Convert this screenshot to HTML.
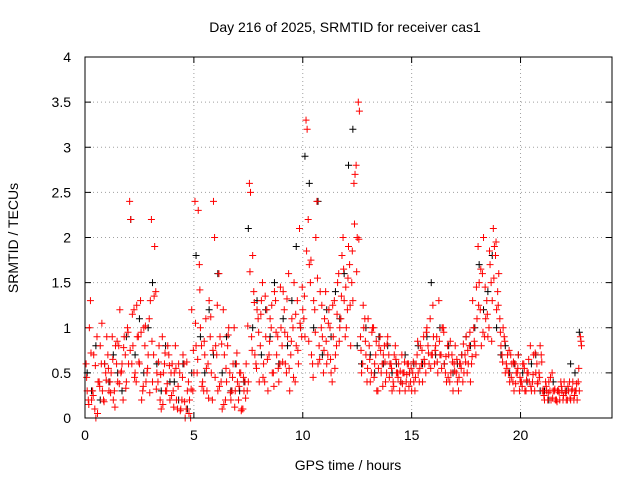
<!DOCTYPE html>
<html><head><meta charset="utf-8"><style>
body{margin:0;background:#fff;}
svg{display:block;font-family:"Liberation Sans",sans-serif;}
</style></head><body>
<svg id="chart" width="640" height="480" xmlns="http://www.w3.org/2000/svg">
<text x="345" y="32" font-size="14" text-anchor="middle">Day 216 of 2025, SRMTID for receiver cas1</text>
<text x="348" y="470" font-size="14" text-anchor="middle">GPS time / hours</text>
<text transform="translate(18,238) rotate(-90)" font-size="14" text-anchor="middle">SRMTID / TECUs</text>
<g id="grid"></g><g id="ticks"></g><g id="marks"></g>
<rect x="85" y="57" width="527" height="361" fill="none" stroke="#000"/>
</svg>
<script>
const xTicks=[0,5,10,15,20];
const yTicks=[0,0.5,1,1.5,2,2.5,3,3.5,4];
const yTickLabels=["0","0.5","1","1.5","2","2.5","3","3.5","4"];
const red1=[0.6,0.2,1.3,0.3,0.1,0.9,0.4,0.6,0.2,0.5,
0.7,0.4,0.9,0.3,0.6,0.8,0.5,0.2,0.7,1.0,
2.4,0.6,1.2,0.4,0.9,1.3,0.3,0.8,0.5,1.1,
2.2,0.7,1.4,0.4,0.2,0.9,0.6,0.3,0.7,0.5,
0.3,0.8,0.1,0.5,0.2,0.6,0.1,0.4,0.0,0.3,
2.4,0.5,1.7,0.8,0.3,1.1,0.6,0.9,0.2,2.0,
0.7,1.6,0.4,1.2,0.2,0.8,0.5,0.3,1.0,0.6,
0.2,0.5,0.1,0.4,0.3,2.6,0.9,1.4,0.6,1.1,
0.8,1.5,0.4,1.2,0.7,1.0,0.5,1.3,0.9,0.6,
0.8,1.2,0.5,1.6,0.7,1.0,0.4,1.3,2.1,0.9,
1.1,3.3,2.2,1.5,0.6,1.2,2.4,0.8,1.0,0.5,
1.4,0.7,1.0,0.4,1.3,0.8,1.6,1.1,2.0,0.9,
1.2,1.7,1.5,2.6,2.8,3.5,0.9,0.6,1.1,0.4,
0.8,0.5,1.0,0.7,0.3,0.9,0.6,0.8,0.5,0.7,
0.6,0.4,0.8,0.5,0.3,0.7,0.5,0.4,0.6,0.4,
0.5,0.3,0.7,0.4,0.6,0.9,0.5,0.8,1.1,0.7,
0.6,0.9,1.3,0.7,1.0,0.5,0.8,0.4,0.7,0.6,
0.5,0.3,0.6,0.4,0.7,0.5,0.8,0.6,1.0,0.7,
1.9,1.2,1.6,0.9,1.3,1.0,1.5,2.1,1.8,1.4,
1.1,0.7,0.9,0.6,0.5,0.7,0.4,0.6,0.5,0.3,
0.4,0.6,0.3,0.5,0.8,0.4,0.3,0.6,0.5,0.7,
0.3,0.4,0.2,0.3,0.5,0.3,0.2,0.3,0.4,0.2,
0.3,0.2,0.4,0.3,0.2,0.3,0.4,0.9];
const red2=[0.3,1.0,0.2,0.7,0.0,0.4,0.8,0.3,0.6,0.9,
0.3,0.5,0.2,0.8,0.4,1.2,0.6,0.9,0.4,0.6,
2.2,0.8,0.5,0.9,0.6,0.2,1.0,0.4,0.7,1.3,
0.4,1.9,0.5,0.8,0.1,0.5,0.3,0.8,0.2,0.6,
0.5,0.2,0.6,0.1,0.7,0.0,0.3,0.2,1.2,0.5,
0.8,2.3,1.0,0.4,0.7,0.3,1.3,0.5,2.4,0.8,
0.3,0.9,0.1,0.7,0.4,1.0,0.2,0.6,0.3,0.4,
0.5,0.1,0.3,0.6,0.4,2.5,1.8,0.7,1.2,0.4,
1.3,0.6,0.9,0.3,1.1,0.5,1.4,0.7,0.4,1.0,
1.4,0.6,0.9,0.3,1.1,1.5,0.8,0.6,1.0,1.2,
0.9,3.2,1.7,0.7,1.3,2.0,0.6,1.4,0.9,1.1,
0.6,1.2,0.5,0.9,0.7,1.5,1.0,1.8,1.3,1.0,
1.9,0.8,1.3,2.7,2.0,3.4,0.5,1.0,0.7,1.1,
0.4,1.0,0.6,0.3,0.8,0.5,0.7,0.4,0.9,0.6,
0.3,0.7,0.5,0.6,0.4,0.5,0.3,0.6,0.5,0.3,
0.4,0.6,0.5,0.8,0.4,0.6,1.0,0.6,0.7,0.9,
0.8,0.5,0.7,1.0,0.6,0.4,0.7,0.5,0.3,0.8,
0.4,0.6,0.7,0.5,0.9,0.6,0.4,1.3,0.8,1.1,
1.5,0.8,2.0,1.1,0.9,1.7,1.3,1.9,1.2,1.6,
0.8,1.0,0.5,0.7,0.4,0.6,0.3,0.5,0.7,0.4,
0.6,0.3,0.5,0.4,0.3,0.7,0.5,0.4,0.8,0.3,
0.2,0.3,0.4,0.2,0.3,0.2,0.3,0.2,0.3,0.4,
0.2,0.3,0.2,0.4,0.3,0.2,0.3,0.8];
const red3=[0.45,0.15,0.72,0.25,0.58,0.05,0.35,1.05,0.18,0.42,
0.55,0.28,0.65,0.12,0.85,0.38,0.52,0.78,0.33,0.95,
0.75,1.15,0.45,1.25,0.62,0.95,0.35,1.02,0.55,0.28,
0.85,1.35,0.32,0.62,0.48,0.15,0.72,0.38,0.58,0.25,
0.12,0.55,0.35,0.08,0.45,0.18,0.62,0.05,0.32,0.75,
1.05,0.65,1.42,0.35,0.85,0.55,0.22,1.12,0.75,0.45,
1.25,0.35,0.82,0.15,0.55,0.92,0.28,0.45,0.12,0.72,
0.35,0.08,0.45,0.22,1.02,1.62,0.75,1.28,0.55,0.95,
1.15,0.45,1.35,0.65,0.85,1.25,0.35,0.95,0.55,1.45,
0.62,0.95,1.32,0.55,0.85,0.45,1.15,0.75,1.05,1.45,
1.35,1.85,0.85,1.75,0.45,0.95,1.55,0.65,1.25,0.75,
0.85,1.05,0.65,1.25,0.55,1.15,0.85,1.35,1.65,1.45,
1.55,1.25,1.85,2.15,1.62,1.98,0.75,1.25,0.85,0.55,
0.65,0.95,0.45,0.85,0.55,0.75,0.35,0.62,0.82,0.45,
0.55,0.35,0.65,0.45,0.52,0.38,0.62,0.48,0.35,0.55,
0.62,0.45,0.85,0.55,0.75,0.65,0.95,0.72,0.55,1.25,
0.75,0.62,0.85,0.55,0.95,0.68,0.45,0.85,0.62,0.52,
0.65,0.45,0.55,0.82,0.62,0.75,0.95,0.68,0.85,1.45,
1.25,1.65,0.95,1.45,1.15,1.85,0.85,1.55,1.95,1.25,
0.95,0.62,0.85,0.55,0.75,0.45,0.62,0.38,0.55,0.45,
0.35,0.55,0.42,0.65,0.35,0.48,0.72,0.38,0.45,0.62,
0.25,0.35,0.28,0.45,0.22,0.32,0.18,0.28,0.35,0.25,
0.28,0.35,0.22,0.32,0.25,0.38,0.55,0.85];
const black=[0.5,0.3,0.8,0.2,0.6,0.4,0.7,0.5,0.3,0.9,
2.2,0.7,1.1,0.5,1.0,1.5,0.6,0.3,0.8,0.4,
0.4,0.2,0.6,0.1,0.5,1.8,0.9,0.5,1.2,0.7,
1.6,0.5,0.9,0.3,0.6,0.3,0.4,2.1,1.0,1.3,
0.7,1.2,0.9,1.5,0.6,1.1,0.8,1.3,1.9,1.0,
2.9,2.6,1.0,2.4,0.7,1.2,0.9,1.4,1.1,1.6,
2.8,3.2,0.8,0.6,1.0,0.7,0.5,0.9,0.6,0.8,
0.5,0.6,0.4,0.7,0.5,0.6,0.8,0.6,0.9,1.5,
0.7,1.0,0.6,0.8,0.5,0.6,0.7,0.9,0.8,1.0,
1.7,1.2,1.4,1.8,1.0,0.7,0.8,0.5,0.6,0.7,
0.5,0.4,0.6,0.7,0.3,0.3,0.2,0.4,0.3,0.3,
0.3,0.6,0.5,0.95];
const NS="http://www.w3.org/2000/svg";
const X0=85,X1=612,Y0=418,Y1=57,XMAX=24.2,YMAX=4;
function xs(v){return X0+(X1-X0)*v/XMAX;}
function ys(v){return Y0-(Y0-Y1)*v/YMAX;}
function mk(tag,attrs,parent){const e=document.createElementNS(NS,tag);for(const k in attrs)e.setAttribute(k,attrs[k]);parent.appendChild(e);return e;}
const grid=document.getElementById('grid'),ticks=document.getElementById('ticks'),marks=document.getElementById('marks');
xTicks.forEach(t=>{
 const x=xs(t);
 if(t>0){const g=mk('line',{x1:x,x2:x,y1:Y0,y2:Y1,stroke:'#a0a0a0','stroke-dasharray':'1,3'},grid);
 
 }
 mk('line',{x1:x,x2:x,y1:Y0,y2:Y0-6,stroke:'#000'},ticks);
 mk('line',{x1:x,x2:x,y1:Y1,y2:Y1+6,stroke:'#000'},ticks);
 const l=mk('text',{x:x,y:Y0+22,'font-size':14,'text-anchor':'middle'},ticks);l.textContent=t;
 
 
});
yTicks.forEach((t,i)=>{
 const y=ys(t);
 if(t>0&&t<YMAX){const g=mk('line',{x1:X0,x2:X1,y1:y,y2:y,stroke:'#a0a0a0','stroke-dasharray':'1,3'},grid);
 
 }
 mk('line',{x1:X0,x2:X0+6,y1:y,y2:y,stroke:'#000'},ticks);
 mk('line',{x1:X1,x2:X1-6,y1:y,y2:y,stroke:'#000'},ticks);
 const l=mk('text',{x:X0-14,y:y+5,'font-size':14,'text-anchor':'end'},ticks);l.textContent=yTickLabels[i];
 
 
});
function plus(t,v,col,name){
 const x=xs(t),y=ys(v);
 const p=mk('path',{d:`M${x-3.5},${y}h7M${x},${y-3.5}v7`,stroke:col,'stroke-width':1,fill:'none'},marks);
 
 
}
black.forEach((v,i)=>plus(0.1+i*0.2,v,'#000','black-point'));
red1.forEach((v,i)=>plus(0.05+i*0.1,v,'#ff0000','red-point'));
red2.forEach((v,i)=>plus(0.1+i*0.1,v,'#ff0000','red-point'));
red3.forEach((v,i)=>plus(0.075+i*0.1,v,'#ff0000','red-point'));
</script>
</body></html>
